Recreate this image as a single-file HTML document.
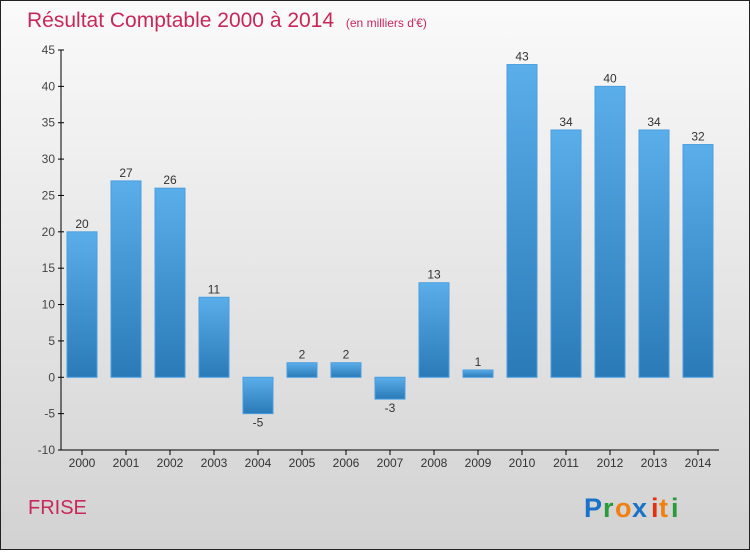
<!DOCTYPE html>
<html><head><meta charset="utf-8"><style>
html,body{margin:0;padding:0}
body{width:750px;height:550px;overflow:hidden;font-family:"Liberation Sans",sans-serif}
#c{position:absolute;left:0;top:0;width:748px;height:548px;border:1px solid #222;background:linear-gradient(#fafafa,#d2d2d2)}
</style></head><body>
<div id="c">
<svg width="748" height="548" xmlns="http://www.w3.org/2000/svg" id="svg">
<defs><linearGradient id="bg" x1="0" y1="0" x2="0" y2="1"><stop offset="0" stop-color="#5aaeea"/><stop offset="1" stop-color="#2a7ab8"/></linearGradient></defs>
<text x="26" y="26" font-size="21" fill="#c8275a">Résultat Comptable 2000 à 2014 <tspan font-size="12" dx="6">(en milliers d'€)</tspan></text>
<g id="g"></g>
<text x="27" y="513" font-size="20" fill="#c8275a">FRISE</text>
<g font-size="27" font-weight="bold">
<text x="583" y="516" fill="#1a73c8">P</text><text x="602" y="516" fill="#2a9a3a">r</text><text x="614" y="516" fill="#f08010">o</text><text x="631" y="516" fill="#1a73c8">x</text><text x="650" y="516" fill="#e03010">i</text><text x="658" y="516" fill="#f08010">t</text><text x="670" y="516" fill="#2a9a3a">i</text>
</g>
</svg></div>
<script>
const years=["2000","2001","2002","2003","2004","2005","2006","2007","2008","2009","2010","2011","2012","2013","2014"];
const values=[20,27,26,11,-5,2,2,-3,13,1,43,34,40,34,32];
const ticks=[45,40,35,30,25,20,15,10,5,0,-5,-10];
const NS="http://www.w3.org/2000/svg",g=document.getElementById('g');
const y=v=>49+(45-v)*400/55, x=i=>81+i*44;
function mk(t,a,txt){const e=document.createElementNS(NS,t);for(const k in a)e.setAttribute(k,a[k]);if(txt!==undefined)e.textContent=txt;g.appendChild(e);return e;}
let ax=mk('line',{x1:60,y1:49,x2:60,y2:449,stroke:'#000'});


let bx=mk('line',{x1:60,y1:449,x2:718,y2:449,stroke:'#000'});


ticks.forEach(t=>{
 mk('line',{x1:57,y1:y(t),x2:63,y2:y(t),stroke:'#000'});
 let l=mk('text',{x:54,y:y(t)+4,'font-size':12,fill:'#444','text-anchor':'end'},t);
 
 
});
years.forEach((yr,i)=>{
 mk('line',{x1:x(i),y1:449,x2:x(i),y2:454,stroke:'#000'});
 let l=mk('text',{x:x(i),y:466,'font-size':12,fill:'#333','text-anchor':'middle'},yr);
 
 
 const v=values[i],top=Math.min(y(v),y(0)),h=Math.abs(y(v)-y(0));
 let b=mk('rect',{x:x(i)-15,y:top,width:30,height:h,fill:'url(#bg)',stroke:'#4a9ee0','stroke-width':1});
 
 
 let vl=mk('text',{x:x(i),y:v>=0?y(v)-4:y(v)+13,'font-size':12,fill:'#333','text-anchor':'middle'},v);
 
 
});
</script>
</body></html>
